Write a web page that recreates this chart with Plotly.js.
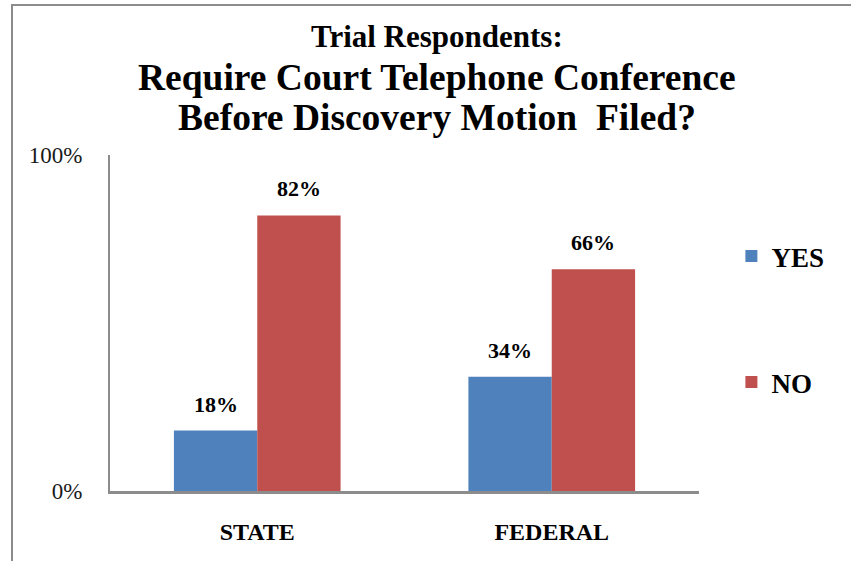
<!DOCTYPE html>
<html>
<head>
<meta charset="utf-8">
<script src="https://cdn.plot.ly/plotly-3.0.1.min.js"></script>
<style>
  body { margin: 0; background: #fff; overflow: hidden; }
  #frame { position: absolute; left: 11px; top: 4px; width: 900px; height: 600px;
           border-left: 2px solid #8c8c8c; border-top: 2px solid #8c8c8c; pointer-events: none; }
  #chart { position: absolute; left: 0; top: 0; width: 851px; height: 561px; }
</style>
</head>
<body>
<div id="chart"></div>
<div id="frame"></div>
<script>
// categories and series
var categories = ['STATE', 'FEDERAL'];
var seriesNames = ['YES', 'NO'];
var yesValues = [18, 34];
var noValues = [82, 66];
var yTickVals = [0, 100];
var yTickText = ['0%', '100%'];
var titleLines = [
    'Trial Respondents:',
    'Require Court Telephone Conference',
    'Before Discovery Motion  Filed?'
];

var serif = 'Liberation Serif, Times New Roman, serif';
var colors = ['#4F81BD', '#C0504D'];
var bargap = 0.434;

var seriesValues = [yesValues, noValues];

var data = seriesValues.map(function(vals, k) {
    return {
        x: categories,
        y: vals,
        name: seriesNames[k],
        type: 'bar',
        legendgroup: seriesNames[k],
        marker: { color: colors[k] },
        hoverinfo: 'skip'
    };
});

// value labels above the bars (offset within each category group)
var barWidth = (1 - bargap) / seriesValues.length;
var annotations = [];
seriesValues.forEach(function(vals, k) {
    var offset = -(1 - bargap) / 2 + barWidth * (k + 0.5);
    vals.forEach(function(v, i) {
        annotations.push({
            x: i + offset,
            y: v,
            xref: 'x',
            yref: 'y',
            text: v + '%',
            showarrow: false,
            yanchor: 'bottom',
            yshift: 12,
            font: { family: serif, size: 22, color: '#000', weight: 'bold' }
        });
    });
});

// three title lines
var titleSizes = [31, 37.5, 37.5];
var titleY = [1.352, 1.232, 1.112];
titleLines.forEach(function(t, i) {
    annotations.push({
        x: 0.556,
        y: titleY[i],
        xref: 'paper',
        yref: 'paper',
        xanchor: 'center',
        yanchor: 'middle',
        text: t,
        showarrow: false,
        font: { family: serif, size: titleSizes[i], color: '#000', weight: 'bold' }
    });
});

var layout = {
    width: 851,
    height: 561,
    margin: { l: 110, r: 152, t: 155, b: 70 },
    paper_bgcolor: 'rgba(0,0,0,0)',
    plot_bgcolor: '#fff',
    font: { family: serif, color: '#000' },
    barmode: 'group',
    bargap: bargap,
    bargroupgap: 0,
    xaxis: {
        showline: true,
        linecolor: '#8c8c8c',
        linewidth: 2.5,
        ticks: '',
        ticklabelstandoff: 18,
        tickfont: { family: serif, size: 24, color: '#000', weight: 'bold' }
    },
    yaxis: {
        range: [0, 100],
        tickvals: yTickVals,
        ticktext: yTickText,
        showline: true,
        linecolor: '#8c8c8c',
        linewidth: 2,
        showgrid: true,
        gridcolor: '#8c8c8c',
        gridwidth: 2,
        zeroline: false,
        ticks: '',
        ticklabelstandoff: 21,
        tickfont: { family: serif, size: 23, color: '#1a1a1a' }
    },
    annotations: annotations,
    showlegend: true,
    legend: {
        x: 1.055,
        xanchor: 'left',
        y: 0.771,
        yanchor: 'top',
        traceorder: 'grouped',
        tracegroupgap: 88,
        font: { family: serif, size: 27, color: '#000', weight: 'bold' },
        itemwidth: 30
    }
};

Plotly.newPlot('chart', data, layout, { displayModeBar: false, staticPlot: true });
</script>
</body>
</html>
